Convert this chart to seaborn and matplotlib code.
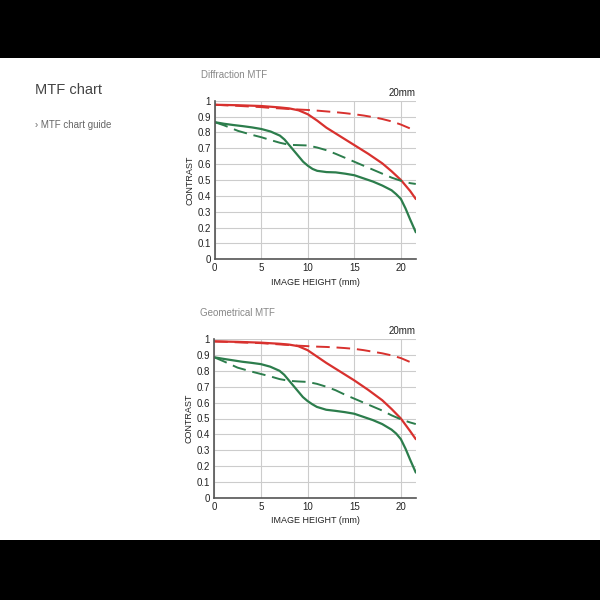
import matplotlib
matplotlib.use('Agg')
import matplotlib.pyplot as plt
import seaborn as sns
from matplotlib.patches import Rectangle

sns.set_style('white')
plt.rcParams['font.family'] = ['Liberation Sans', 'DejaVu Sans']

# image height positions (mm) for each curve
x_red = [0, 2.5, 5, 7, 8, 9, 10, 11, 12, 13.5, 15, 16.5, 18, 19, 20, 21, 21.6]
x_green = [0, 1, 2, 3, 4, 5, 6, 7, 7.5, 8, 8.5, 9, 9.5, 10, 10.5, 11, 12, 13, 14, 15, 16, 17, 18, 19, 19.5, 20, 20.5, 21, 21.6]
x_dash = [0, 1, 2.5, 4, 5, 6, 7, 8, 9, 10, 11, 12, 13, 14, 15, 16, 17, 18, 19, 20, 21, 21.6]

# Diffraction MTF
diff_red_solid = [0.975, 0.972, 0.967, 0.958, 0.952, 0.94, 0.915, 0.875, 0.83, 0.775, 0.72, 0.665, 0.605, 0.555, 0.50, 0.43, 0.38]
diff_red_dash = [0.975, 0.972, 0.968, 0.963, 0.96, 0.955, 0.952, 0.948, 0.945, 0.942, 0.938, 0.933, 0.928, 0.922, 0.915, 0.907, 0.897, 0.885, 0.87, 0.85, 0.825, 0.81]
diff_green_solid = [0.865, 0.855, 0.847, 0.84, 0.832, 0.822, 0.806, 0.78, 0.755, 0.72, 0.685, 0.65, 0.615, 0.59, 0.57, 0.558, 0.55, 0.548, 0.54, 0.53, 0.51, 0.49, 0.465, 0.435, 0.41, 0.38, 0.32, 0.25, 0.17]
diff_green_dash = [0.865, 0.845, 0.81, 0.785, 0.77, 0.752, 0.735, 0.722, 0.72, 0.718, 0.705, 0.688, 0.665, 0.64, 0.615, 0.59, 0.565, 0.54, 0.515, 0.495, 0.48, 0.475]

# Geometrical MTF
geo_red_solid = [0.985, 0.982, 0.977, 0.97, 0.965, 0.955, 0.93, 0.89, 0.85, 0.795, 0.74, 0.68, 0.615, 0.56, 0.50, 0.42, 0.37]
geo_red_dash = [0.985, 0.983, 0.979, 0.976, 0.974, 0.97, 0.966, 0.962, 0.958, 0.955, 0.952, 0.95, 0.947, 0.943, 0.938, 0.93, 0.92, 0.91, 0.897, 0.88, 0.855, 0.84]
geo_green_solid = [0.885, 0.875, 0.866, 0.857, 0.85, 0.842, 0.826, 0.80, 0.775, 0.74, 0.705, 0.67, 0.635, 0.61, 0.59, 0.573, 0.555, 0.548, 0.54, 0.53, 0.51, 0.49, 0.465, 0.43, 0.405, 0.37, 0.31, 0.24, 0.16]
geo_green_dash = [0.885, 0.86, 0.82, 0.795, 0.78, 0.765, 0.748, 0.737, 0.733, 0.73, 0.718, 0.70, 0.678, 0.65, 0.625, 0.60, 0.575, 0.55, 0.52, 0.495, 0.475, 0.465]

y_ticks = [0, 0.1, 0.2, 0.3, 0.4, 0.5, 0.6, 0.7, 0.8, 0.9, 1]
y_labels = ['0', '0.1', '0.2', '0.3', '0.4', '0.5', '0.6', '0.7', '0.8', '0.9', '1']
x_ticks = [0, 5, 10, 15, 20]

red = '#d8312e'
green = '#2c7d4c'

fig = plt.figure(figsize=(6, 6), dpi=100, facecolor='black')
fig.add_artist(Rectangle((0, 0.1), 1, 0.803, transform=fig.transFigure, facecolor='white', edgecolor='none', zorder=0))

fig.text(0.058, 0.843, 'MTF chart', fontsize=10.5, color='#444444')
fig.text(0.058, 0.787, '› MTF chart guide', fontsize=7, color='#666666')


def draw(ax, title, rs, rd, gs, gd):
    sns.lineplot(x=x_red, y=rs, ax=ax, color=red, lw=1.6)
    sns.lineplot(x=x_dash, y=rd, ax=ax, color=red, lw=1.4, linestyle=(0, (7, 3.5)))
    sns.lineplot(x=x_green, y=gs, ax=ax, color=green, lw=1.6)
    sns.lineplot(x=x_dash, y=gd, ax=ax, color=green, lw=1.4, linestyle=(0, (7, 3.5)))
    ax.set_xlim(0, 21.6)
    ax.set_ylim(0, 1)
    ax.set_xticks(x_ticks)
    ax.set_yticks(y_ticks)
    ax.set_yticklabels(y_labels)
    ax.grid(True, color='#cccccc', lw=0.8)
    ax.set_axisbelow(True)
    for s in ['top', 'right']:
        ax.spines[s].set_visible(False)
    for s in ['left', 'bottom']:
        ax.spines[s].set_color('#555555')
        ax.spines[s].set_linewidth(1.2)
    ax.tick_params(labelsize=7, length=0, pad=3, colors='#222222')
    ax.set_xlabel('IMAGE HEIGHT (mm)', fontsize=6.5, color='#222222', labelpad=3)
    ax.set_ylabel('CONTRAST', fontsize=6.5, color='#222222', labelpad=2)
    ax.text(1.0, 1.02, '20mm', transform=ax.transAxes, ha='right', va='bottom', fontsize=7, color='#222222')
    ax.text(-0.07, 1.13, title, transform=ax.transAxes, ha='left', va='bottom', fontsize=7, color='#888888')


ax1 = fig.add_axes([0.358, 0.568, 0.335, 0.264])
draw(ax1, 'Diffraction MTF', diff_red_solid, diff_red_dash, diff_green_solid, diff_green_dash)
ax2 = fig.add_axes([0.357, 0.17, 0.336, 0.265])
draw(ax2, 'Geometrical MTF', geo_red_solid, geo_red_dash, geo_green_solid, geo_green_dash)

fig.savefig('out.png', dpi=100, facecolor='black')
